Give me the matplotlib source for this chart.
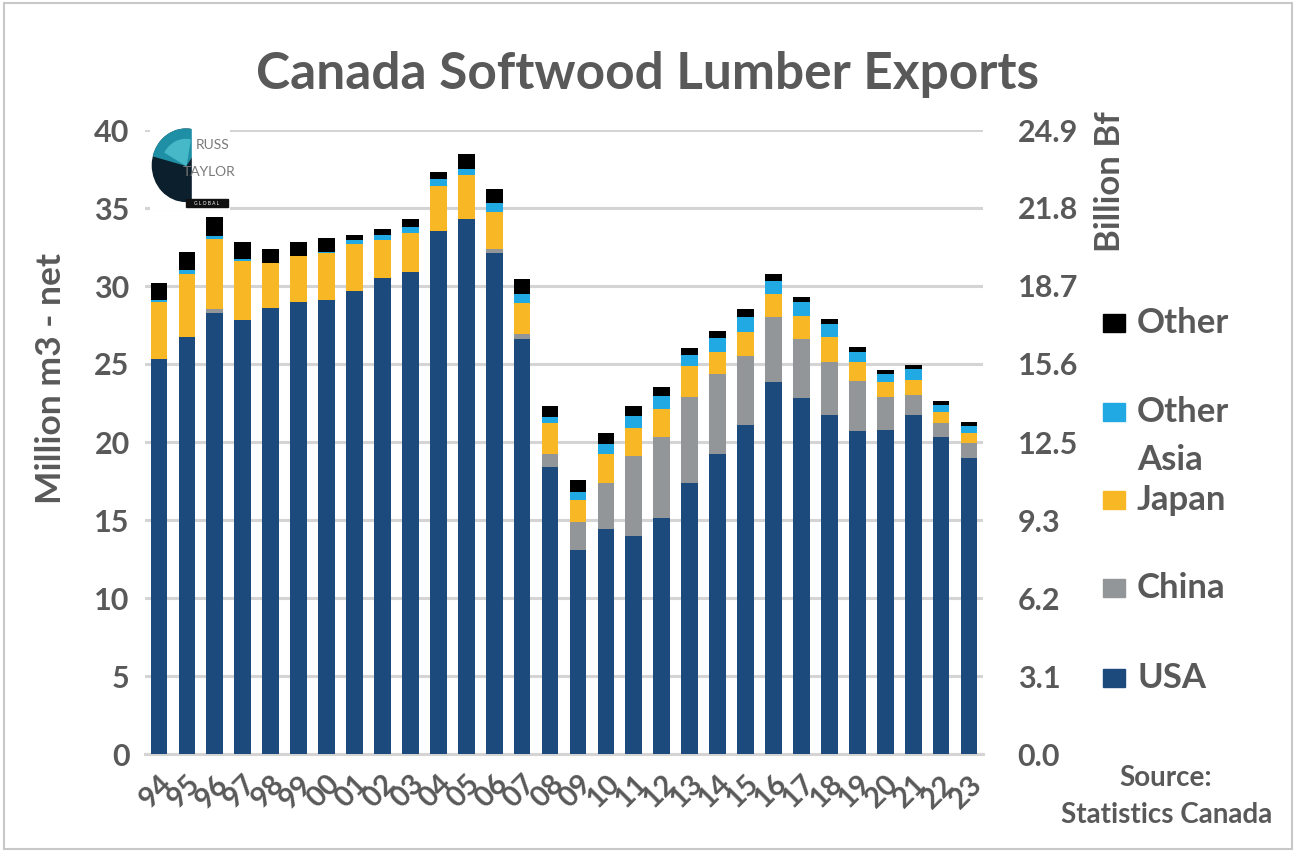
import numpy as np
import matplotlib
matplotlib.use("Agg")
import matplotlib.pyplot as plt
from matplotlib.patches import Rectangle, Circle, Wedge

# data (million m3)
###############################################################################
years = ['94', '95', '96', '97', '98', '99', '00', '01', '02', '03',
         '04', '05', '06', '07', '08', '09', '10', '11', '12', '13',
         '14', '15', '16', '17', '18', '19', '20', '21', '22', '23']
usa = [25.3, 26.7, 28.3, 27.8, 28.6, 29.0, 29.1, 29.7, 30.5, 30.9,
       33.5, 34.3, 32.1, 26.6, 18.4, 13.1, 14.4, 14.0, 15.1, 17.4,
       19.2, 21.1, 23.85, 22.8, 21.7, 20.7, 20.8, 21.75, 20.35, 19.0]
china = [0, 0, 0.2, 0, 0, 0, 0, 0, 0, 0,
         0, 0, 0.3, 0.3, 0.8, 1.75, 3.0, 5.1, 5.25, 5.5,
         5.15, 4.4, 4.15, 3.8, 3.4, 3.2, 2.1, 1.25, 0.85, 0.95]
japan = [3.7, 4.1, 4.5, 3.8, 2.85, 2.9, 3.0, 3.0, 2.45, 2.5,
         2.9, 2.8, 2.35, 2.0, 2.0, 1.45, 1.8, 1.8, 1.75, 2.0,
         1.45, 1.55, 1.5, 1.45, 1.6, 1.2, 0.95, 0.95, 0.7, 0.65]
other_asia = [0.1, 0.2, 0.2, 0.1, 0.05, 0.05, 0.05, 0.25, 0.35, 0.4,
              0.45, 0.4, 0.55, 0.6, 0.4, 0.5, 0.65, 0.75, 0.85, 0.7,
              0.85, 0.95, 0.85, 0.9, 0.85, 0.65, 0.5, 0.75, 0.5, 0.4]
other = [1.1, 1.2, 1.2, 1.1, 0.9, 0.9, 0.9, 0.35, 0.35, 0.5,
         0.45, 0.95, 0.95, 0.95, 0.7, 0.75, 0.75, 0.65, 0.6, 0.45,
         0.45, 0.55, 0.4, 0.35, 0.35, 0.35, 0.25, 0.25, 0.2, 0.3]

left_ticks = [0, 5, 10, 15, 20, 25, 30, 35, 40]
bf_per_m3 = 0.6228  # billion board feet per million m3 (right axis)

series = [("USA", usa, "#1d4a7c"),
          ("China", china, "#939698"),
          ("Japan", japan, "#f8b826"),
          ("Other\nAsia", other_asia, "#20a9e2"),
          ("Other", other, "#000000")]

# style
###############################################################################
plt.rcParams['font.family'] = ['Lato', 'DejaVu Sans']
txt = "#595959"

fig = plt.figure(figsize=(12.96, 8.52), dpi=100)
W, H = 1296.0, 852.0
ax = fig.add_axes([145 / W, 1 - 754 / H, 838 / W, 624 / H])

x = np.arange(len(years))
bottom = np.zeros(len(years))
for name, vals, col in series:
    ax.bar(x, vals, width=0.6, bottom=bottom, color=col, zorder=3)
    bottom += np.array(vals)

ax.set_xlim(-0.5, len(years) - 0.5)
ax.set_ylim(0, 40)
ax.set_yticks(left_ticks)
ax.yaxis.grid(True, color="#d4d4d4", lw=2.2, zorder=0)
for s in ["top", "left", "right"]:
    ax.spines[s].set_visible(False)
ax.spines["bottom"].set_color("#d4d4d4")
ax.spines["bottom"].set_linewidth(2.2)
ax.tick_params(length=0)
ax.tick_params(axis="y", labelsize=22, labelcolor=txt, pad=11)
for t in ax.get_yticklabels():
    t.set_fontweight("bold")
ax.set_xticks(x)
ax.set_xticklabels(years, rotation=45, ha="right", va="top",
                   rotation_mode="anchor", fontsize=21, color=txt,
                   fontweight="bold")
ax.tick_params(axis="x", pad=12)

# left axis title
fig.text(51 / W, 1 - 378 / H, "Million m3 - net", rotation=90, ha="center",
         va="center", fontsize=25.5, color=txt, fontweight="bold")

ax2 = ax.twinx()
ax2.set_ylim(0, 40 * bf_per_m3)
ax2.set_yticks([v * bf_per_m3 for v in left_ticks])
ax2.set_yticklabels(["%.1f" % (v * bf_per_m3) for v in left_ticks],
                    fontsize=22, color=txt, fontweight="bold")
ax2.tick_params(length=0, pad=25)
for s in ax2.spines.values():
    s.set_visible(False)

# right axis title
fig.text(1110 / W, 1 - 182 / H, "Billion Bf", rotation=90, ha="center",
         va="center", fontsize=25, color=txt, fontweight="bold")

# title
fig.text(648 / W, 1 - 75 / H, "Canada Softwood Lumber Exports",
         ha="center", va="center", fontsize=37, color=txt, fontweight="bold")

# legend (right side, Other on top)
leg_y = {"Other": 323, "Other\nAsia": 412, "Japan": 500, "China": 588, "USA": 678}
for name, vals, col in series:
    yy = leg_y[name]
    fig.patches.append(Rectangle((1103 / W, 1 - (yy + 9) / H), 22 / W, 18 / H,
                                 transform=fig.transFigure, color=col))
    for i, line in enumerate(name.split("\n")):
        fig.text(1137 / W, 1 - (yy + 48 * i) / H, line, ha="left", va="center",
                 fontsize=25, color=txt, fontweight="bold")

# source note
fig.text(1166 / W, 1 - 778 / H, "Source:", ha="center", va="center",
         fontsize=20, color=txt, fontweight="bold")
fig.text(1167 / W, 1 - 815 / H, "Statistics Canada", ha="center", va="center",
         fontsize=20, color=txt, fontweight="bold")

# small logo, top left of plot
lax = fig.add_axes([150 / W, 1 - 210 / H, 80 / W, 86 / H])
lax.set_xlim(0, 1)
lax.set_ylim(0, 1)
lax.set_xticks([])
lax.set_yticks([])
for s in lax.spines.values():
    s.set_visible(False)
lax.set_facecolor("white")
lax.add_patch(Circle((0.45, 0.52), 0.42, color="#0c1f2c"))
lax.add_patch(Wedge((0.45, 0.52), 0.42, 55, 165, color="#1f8fa6"))
lax.add_patch(Wedge((0.45, 0.52), 0.3, 80, 150, color="#46b8c8"))
lax.add_patch(Rectangle((0.52, 0.1), 0.48, 0.9, color="white"))
lax.text(0.78, 0.76, "RUSS", fontsize=10, color="#7a7a7a", ha="center", va="center")
lax.text(0.74, 0.44, "TAYLOR", fontsize=10, color="#7a7a7a", ha="center", va="center")
lax.add_patch(Rectangle((0.45, 0.03), 0.52, 0.1, color="#111111"))
lax.text(0.71, 0.08, "G L O B A L", fontsize=3.5, color="white", ha="center", va="center")

# outer frame
fig.patches.append(Rectangle((0.003, 0.003), 0.994, 0.994, transform=fig.transFigure,
                             fill=False, ec="#c8c8c8", lw=1.5))

fig.savefig("out.png", dpi=100)
